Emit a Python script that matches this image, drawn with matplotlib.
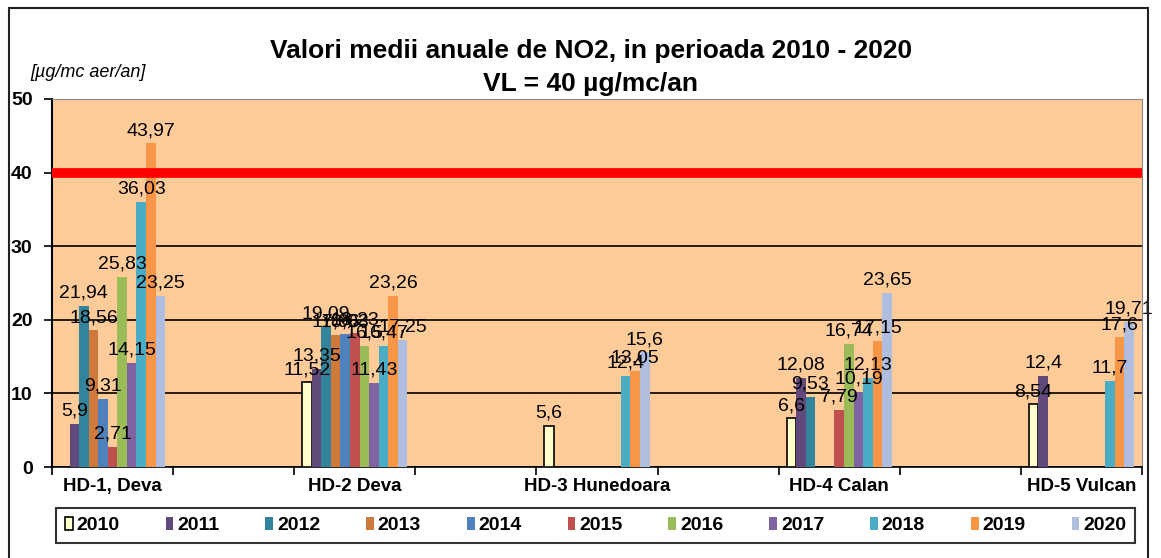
import numpy as np
import matplotlib.pyplot as plt
from matplotlib.patches import Rectangle

plt.rcParams['font.family'] = ['Liberation Sans', 'DejaVu Sans']

statii = ['HD-1, Deva', 'HD-2 Deva', 'HD-3 Hunedoara', 'HD-4 Calan', 'HD-5 Vulcan']
ani = ['2010', '2011', '2012', '2013', '2014', '2015', '2016', '2017', '2018', '2019', '2020']
nan = np.nan

# valori pe an, cate una pentru fiecare statie
v2010 = [nan, 11.52, 5.6, 6.6, 8.54]
v2011 = [5.9, 13.35, nan, 12.08, 12.4]
v2012 = [21.94, 19.09, nan, 9.53, nan]
v2013 = [18.56, 17.96, nan, nan, nan]
v2014 = [9.31, 18.03, nan, nan, nan]
v2015 = [2.71, 18.23, nan, 7.79, nan]
v2016 = [25.83, 16.5, nan, 16.74, nan]
v2017 = [14.15, 11.43, nan, 10.19, nan]
v2018 = [36.03, 16.47, 12.4, 12.13, 11.7]
v2019 = [43.97, 23.26, 13.05, 17.15, 17.6]
v2020 = [23.25, 17.25, 15.6, 23.65, 19.71]
valori = [v2010, v2011, v2012, v2013, v2014, v2015, v2016, v2017, v2018, v2019, v2020]

culori = ['#FFFFCC', '#604A7B', '#31849B', '#CF7A3A', '#4F81BD', '#C0504D',
          '#9BBB59', '#8064A2', '#4BACC6', '#F79646', '#AFBEDF']

fig = plt.figure(figsize=(11.61, 5.58), dpi=100)
ax = fig.add_axes([0.0448, 0.163, 0.9388, 0.6597])
ax.set_facecolor('#FFCC99')

# chenarul exterior
fig.patches.append(Rectangle((9/1161, -0.05), 1139/1161, 1.05 - 8/558, transform=fig.transFigure,
                             fill=False, edgecolor='#222222', lw=1.5))

x = np.arange(len(statii)) * 2
w = 0.079
for i, an in enumerate(ani):
    pos = x + (i - 5) * w
    vals = np.array(valori[i], dtype=float)
    if i == 0:
        ax.bar(pos, vals, w, color=culori[i], edgecolor='black', lw=1.2, label=an, zorder=3)
    else:
        ax.bar(pos, vals, w, color=culori[i], label=an, zorder=3)
    for p, v in zip(pos, vals):
        if not np.isnan(v):
            txt = ('%g' % v).replace('.', ',')
            ax.annotate(txt, (p, v), xytext=(0, 3), textcoords='offset points',
                        ha='center', va='bottom', fontsize=14, zorder=5)

# linia valorii limita
ax.axhline(40, color='#FF0000', lw=7, zorder=4)

ax.set_ylim(0, 50)
ax.set_xlim(-0.5, 8.5)
ax.set_yticks([0, 10, 20, 30, 40, 50])
ax.set_yticklabels(['0', '10', '20', '30', '40', '50'], fontsize=14, fontweight='bold')
ax.yaxis.grid(True, color='black', lw=1.2, zorder=1)
ax.set_axisbelow(True)

ax.set_xticks(x)
ax.set_xticklabels(statii, fontsize=13.5, fontweight='bold')
ax.tick_params(axis='x', which='major', length=0, pad=8)
ax.set_xticks(np.arange(-0.5, 9, 1), minor=True)
ax.tick_params(axis='x', which='minor', length=6, width=1.2, direction='out')
ax.tick_params(axis='y', length=6, width=1.2, direction='out', pad=8)

ax.spines['left'].set_linewidth(1.5)
ax.spines['bottom'].set_linewidth(1.2)
ax.spines['top'].set_color('#888888')
ax.spines['right'].set_color('#888888')

fig.text(0.509, 0.908, 'Valori medii anuale de NO2, in perioada 2010 - 2020',
         ha='center', va='center', fontsize=19, fontweight='bold')
fig.text(0.509, 0.85, 'VL = 40 µg/mc/an', ha='center', va='center', fontsize=19, fontweight='bold')
fig.text(0.026, 0.87, '[µg/mc aer/an]', ha='left', va='center', fontsize=13, style='italic')

leg = fig.legend(loc='center', bbox_to_anchor=(0.513, 0.058), ncol=11, fontsize=14,
                 frameon=True, fancybox=False, edgecolor='black', handlelength=0.4,
                 handleheight=0.7, handletextpad=0.2, columnspacing=2.36,
                 borderpad=0.45)
leg.get_frame().set_linewidth(1.5)
for t in leg.get_texts():
    t.set_fontweight('bold')

plt.savefig('out.png', dpi=100)
